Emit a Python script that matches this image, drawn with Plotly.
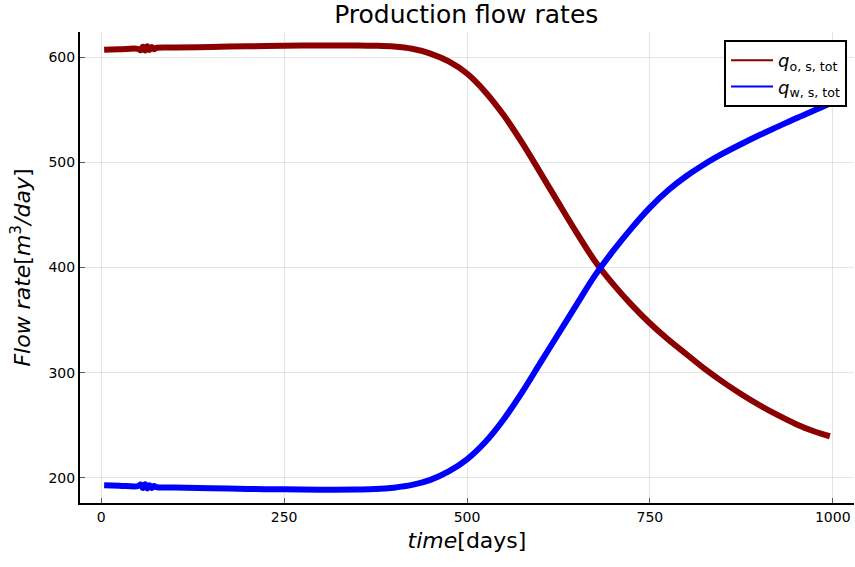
import plotly.graph_objects as go

# Time samples (days) and surface production rates (m^3/day)
t_oil = [4, 25, 50, 54, 57, 60, 63, 66, 69, 72, 76, 100, 150, 200, 250, 300, 350,
         375, 400, 425, 450, 475, 500, 525, 550, 575, 600, 625, 650, 675, 700,
         725, 750, 775, 800, 825, 850, 875, 900, 925, 950, 975, 996]
q_oil = [607.0, 607.5, 608.0, 606.6, 610.0, 606.4, 610.4, 606.8, 609.8, 607.6, 609.0,
         609.2, 609.8, 610.4, 610.9, 611.2, 611.2,
         610.9, 610.1, 608.0, 603.5, 596.0, 584.5, 567.0, 545.0, 519.0, 490.5,
         461.5, 433.0, 406.0, 384.0, 364.5, 347.0, 331.5, 317.5, 303.5, 291.0,
         279.5, 269.0, 259.5, 251.0, 244.0, 239.5]

t_wat = [4, 25, 50, 54, 57, 60, 63, 66, 69, 72, 76, 100, 150, 200, 250, 300, 350,
         375, 400, 425, 450, 475, 500, 525, 550, 575, 600, 625, 650, 675, 700,
         725, 750, 775, 800, 825, 850, 875, 900, 925, 950, 975, 996]
q_wat = [193.0, 192.5, 192.0, 193.6, 190.2, 193.8, 189.8, 193.0, 190.2, 192.2, 191.0,
         190.8, 190.0, 189.4, 189.0, 188.6, 188.8,
         189.2, 190.6, 193.2, 198.0, 206.0, 217.5, 234.0, 255.5, 281.0, 309.0,
         337.0, 365.0, 392.5, 416.0, 437.5, 457.0, 473.5, 487.0, 498.5, 508.5,
         517.5, 526.0, 534.0, 542.0, 549.5, 556.0]

x_ticks = [0, 250, 500, 750, 1000]
y_ticks = [200, 300, 400, 500, 600]

OIL = "#8B0000"
WATER = "#0000FF"
FONT = "DejaVu Sans"

fig = go.Figure()

fig.add_trace(go.Scatter(x=t_oil, y=q_oil, mode="lines",
                         line=dict(color=OIL, width=6, shape="spline", smoothing=1.0),
                         showlegend=False, hoverinfo="skip"))
fig.add_trace(go.Scatter(x=t_wat, y=q_wat, mode="lines",
                         line=dict(color=WATER, width=6, shape="spline", smoothing=1.0),
                         showlegend=False, hoverinfo="skip"))

# Thin legend entries
fig.add_trace(go.Scatter(x=[None], y=[None], mode="lines",
                         line=dict(color=OIL, width=2),
                         name="<i>q</i><sub>o, s, tot</sub>"))
fig.add_trace(go.Scatter(x=[None], y=[None], mode="lines",
                         line=dict(color=WATER, width=2),
                         name="<i>q</i><sub>w, s, tot</sub>"))

axis_common = dict(
    showgrid=True, gridcolor="rgba(0,0,0,0.1)", gridwidth=1,
    zeroline=False, showline=True, linecolor="black", linewidth=2,
    ticks="inside", ticklen=5, tickcolor="rgba(0,0,0,0.6)", tickwidth=1,
    tickfont=dict(family=FONT, size=14, color="black"),
    mirror=False,
)

fig.update_layout(
    width=855, height=567,
    paper_bgcolor="white", plot_bgcolor="white",
    margin=dict(l=80, r=1, t=32, b=64),
    font=dict(family=FONT, color="black"),
    title=dict(text="Production flow rates", x=0.5453, xanchor="center",
               y=0.974, yanchor="middle",
               font=dict(family=FONT, size=25, color="black")),
    xaxis=dict(range=[-29, 1029], tickvals=x_ticks,
               ticktext=[str(v) for v in x_ticks],
               title=dict(text="<i>time</i>[days]", standoff=9,
                          font=dict(family=FONT, size=22)),
               **axis_common),
    yaxis=dict(range=[176, 624], tickvals=y_ticks,
               ticktext=[str(v) for v in y_ticks],
               title=dict(text="<i>Flow rate</i>[<i>m</i><sup>3</sup><i>/day</i>]",
                          standoff=12, font=dict(family=FONT, size=22)),
               **axis_common),
    legend=dict(x=0.991, xanchor="right", y=0.983, yanchor="top",
                bgcolor="white", bordercolor="black", borderwidth=2,
                font=dict(family=FONT, size=18, color="black"),
                itemwidth=42, tracegroupgap=2),
)

fig.write_html("out.html")
